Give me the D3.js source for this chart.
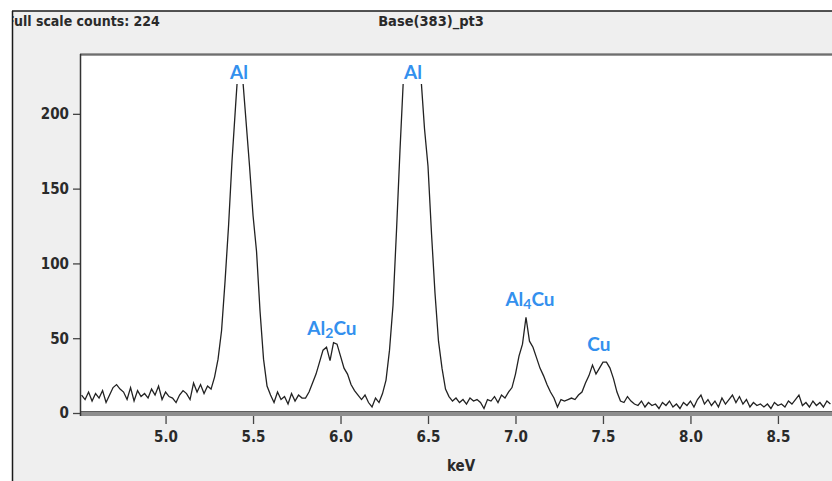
<!DOCTYPE html>
<html>
<head>
<meta charset="utf-8">
<script src="https://cdn.jsdelivr.net/npm/d3@7"></script>
<style>
    body { margin: 0; background: #fff; }
    svg { display: block; }
    .cond { font-family: "Liberation Sans Narrow", "DejaVu Sans Condensed", "Arial Narrow", sans-serif; font-weight: bold; fill: #2a2a2a; }
    .peak { font-family: Lato, "Open Sans", sans-serif; font-weight: bold; fill: #3390ee; font-size: 19px; }
</style>
</head>
<body>
<svg id="chart" width="832" height="481"></svg>
<script>
// spectrum sampled every 0.02 keV starting at 4.52 keV
var startKeV = 4.52;
var stepKeV = 0.02;
var counts = [
    12, 9, 14, 8, 13, 10, 15, 7, 12, 17,
    19, 16, 14, 9, 17, 8, 15, 11, 13, 10,
    16, 12, 18, 9, 14, 11, 10, 7, 12, 15,
    13, 9, 20, 14, 19, 13, 18, 16, 24, 36,
    55, 88, 125, 169, 205, 240, 225, 195, 165, 132,
    108, 68, 36, 18, 12, 7, 14, 9, 11, 6,
    13, 8, 12, 10, 10, 14, 20, 26, 34, 42,
    44, 35, 47, 46, 38, 30, 26, 19, 15, 12,
    9, 12, 7, 4, 10, 7, 13, 22, 42, 72,
    122, 176, 225, 258, 280, 285, 250, 224, 190, 165,
    120, 80, 48, 30, 16, 11, 8, 10, 7, 9,
    6, 10, 8, 9, 7, 3, 9, 8, 11, 7,
    12, 10, 14, 17, 26, 38, 46, 64, 48, 44,
    37, 30, 25, 19, 14, 10, 4, 9, 8, 9,
    10, 9, 12, 14, 20, 25, 32, 26, 30, 34,
    34, 30, 23, 14, 8, 7, 11, 8, 6, 5,
    8, 4, 7, 5, 6, 3, 7, 5, 8, 4,
    6, 3, 7, 5, 8, 4, 9, 12, 6, 9,
    5, 8, 4, 10, 6, 9, 12, 7, 11, 6,
    9, 4, 7, 5, 6, 4, 6, 3, 7, 5,
    6, 4, 8, 6, 9, 12, 5, 7, 4, 8,
    5, 7, 4, 8, 6
];
var fullScale = 220;   // values above this are cut off in the display
var xTicks = [5.0, 5.5, 6.0, 6.5, 7.0, 7.5, 8.0, 8.5];
var yTicks = [0, 50, 100, 150, 200];
var peakNames = ["Al", "Al", "Al", "Al", "Cu"];
var peakSubs = ["", "2", "", "4", ""];
var peakTails = ["", "Cu", "", "Cu", ""];
var peakKeV = [5.42, 5.951, 6.414, 7.083, 7.477];
var peakCounts = [223, 52, 223, 71.5, 41.5];

var spectrum = counts.map(function(c, i) {
    return { kev: startKeV + i * stepKeV, c: c };
});

var svg = d3.select("#chart");

var x = d3.scaleLinear().domain([4.511, 8.809]).range([80, 832]);
var y = d3.scaleLinear().domain([0, 240]).range([413, 54]);

// outer window panel
svg.append("rect")
    .attr("x", 12).attr("y", 11)
    .attr("width", 830).attr("height", 480)
    .attr("fill", "#efefef");

var defs = svg.append("defs");
defs.append("clipPath").attr("id", "panelClip")
  .append("rect").attr("x", 13).attr("y", 11).attr("width", 830).attr("height", 480);
defs.append("clipPath").attr("id", "dataClip")
  .append("rect").attr("x", 80).attr("y", y(fullScale))
    .attr("width", 760).attr("height", 413 - y(fullScale) + 4);

var header = svg.append("g").attr("clip-path", "url(#panelClip)");
header.append("text")
    .attr("class", "cond")
    .attr("x", 6).attr("y", 26)
    .style("font-size", "14px")
    .text("Full scale counts: 224");
header.append("text")
    .attr("class", "cond")
    .attr("x", 431).attr("y", 26)
    .attr("text-anchor", "middle")
    .style("font-size", "14.5px")
    .text("Base(383)_pt3");

svg.append("line")
    .attr("x1", 12).attr("x2", 832).attr("y1", 11).attr("y2", 11)
    .attr("stroke", "#1a1a1a").attr("stroke-width", 1.5);
svg.append("line")
    .attr("x1", 12.5).attr("x2", 12.5).attr("y1", 11).attr("y2", 481)
    .attr("stroke", "#1a1a1a").attr("stroke-width", 1.5);

// plot area
svg.append("rect")
    .attr("x", 80).attr("y", 54)
    .attr("width", 760).attr("height", 359)
    .attr("fill", "#fff");
svg.append("line")
    .attr("x1", 80).attr("x2", 832).attr("y1", 54.5).attr("y2", 54.5)
    .attr("stroke", "#9a9a9a").attr("stroke-width", 3);
svg.append("line")
    .attr("x1", 80).attr("x2", 832).attr("y1", 54.5).attr("y2", 54.5)
    .attr("stroke", "#6e6e6e").attr("stroke-width", 1);

// spectrum trace
var line = d3.line()
    .x(function(d) { return x(d.kev); })
    .y(function(d) { return y(d.c); });

svg.append("path")
    .datum(spectrum)
    .attr("clip-path", "url(#dataClip)")
    .attr("d", line)
    .attr("fill", "none")
    .attr("stroke", "#222")
    .attr("stroke-width", 1.3);

// bottom axis bar
svg.append("rect")
    .attr("x", 80).attr("y", 411)
    .attr("width", 760).attr("height", 5)
    .attr("fill", "#8e8e8e");
svg.append("line")
    .attr("x1", 80).attr("x2", 832).attr("y1", 411.5).attr("y2", 411.5)
    .attr("stroke", "#5e5e5e").attr("stroke-width", 1);

var xAxis = svg.append("g")
    .attr("transform", "translate(0,416)")
    .call(d3.axisBottom(x).tickValues(xTicks).tickFormat(d3.format(".1f")).tickSize(8).tickPadding(7));
var yAxis = svg.append("g")
    .attr("transform", "translate(80,0)")
    .call(d3.axisLeft(y).tickValues(yTicks).tickFormat(d3.format("d")).tickSize(7).tickPadding(4));

[xAxis, yAxis].forEach(function(a) {
    a.select(".domain").remove();
    a.selectAll(".tick line").attr("stroke", "#444").attr("stroke-width", 1.3);
    a.selectAll(".tick text")
        .attr("class", "cond")
        .attr("font-family", null).attr("font-size", null)
        .style("font-size", "15px")
        .attr("fill", null);
});

svg.append("line")
    .attr("x1", 80.5).attr("x2", 80.5).attr("y1", 54).attr("y2", 416)
    .attr("stroke", "#333").attr("stroke-width", 1.5);

svg.append("text")
    .attr("class", "cond")
    .attr("x", 461).attr("y", 471)
    .attr("text-anchor", "middle")
    .style("font-size", "15px")
    .text("keV");

// peak annotations
var labels = svg.append("g").selectAll("text")
    .data(peakNames)
    .enter().append("text")
    .attr("class", "peak")
    .attr("x", function(d, i) { return x(peakKeV[i]); })
    .attr("y", function(d, i) { return y(peakCounts[i]); })
    .attr("text-anchor", "middle");

labels.append("tspan").text(function(d) { return d; });
labels.append("tspan")
    .attr("font-size", "14px")
    .attr("dy", 3)
    .text(function(d, i) { return peakSubs[i]; });
labels.append("tspan")
    .attr("dy", function(d, i) { return peakSubs[i] ? -3 : 0; })
    .text(function(d, i) { return peakTails[i]; });
</script>
</body>
</html>
